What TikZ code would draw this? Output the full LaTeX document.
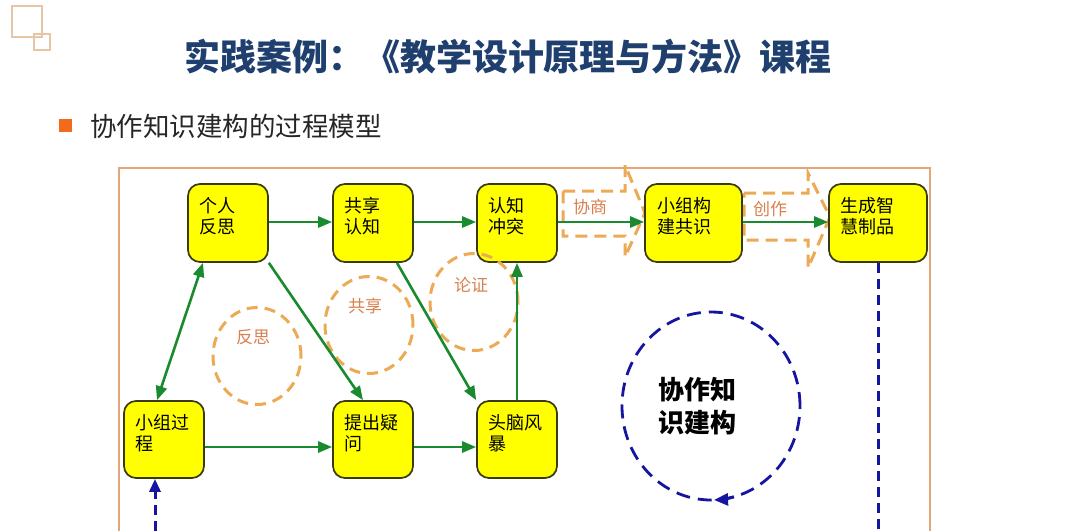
\documentclass[tikz,border=0pt]{standalone}
\usepackage{fontspec}
\newfontfamily\cjk{Noto Sans CJK SC}
\usetikzlibrary{arrows.meta,shapes.geometric}
\definecolor{boxfill}{HTML}{FFFF00}
\definecolor{boxline}{HTML}{3A3A10}
\definecolor{arrowgreen}{HTML}{1A8A2E}
\definecolor{dashorange}{HTML}{EDAA55}
\definecolor{labelorange}{HTML}{D8804E}
\definecolor{dblue}{HTML}{1515A0}
\definecolor{titleblue}{HTML}{1F3F6E}
\definecolor{bulletorange}{HTML}{F26A1B}
\definecolor{framec}{HTML}{E3A679}
\definecolor{cornerc}{HTML}{E6C6A6}
\begin{document}
\begin{tikzpicture}[x=1pt,y=-1pt,
  box/.style={draw=boxline, fill=boxfill, rounded corners=12pt, line width=1.7pt,
    minimum width=80pt, minimum height=78pt, inner sep=0},
  boxtext/.style={font=\cjk\fontsize{18}{21}\selectfont, align=left, inner sep=0, text=black, anchor=north west},
  garrow/.style={draw=arrowgreen, line width=2.6pt, -{Triangle[length=14pt,width=11pt]}},
  gdouble/.style={draw=arrowgreen, line width=2.6pt, {Triangle[length=14pt,width=11pt]}-{Triangle[length=14pt,width=11pt]}},
  ocirc/.style={draw=dashorange, dash pattern=on 11pt off 7pt, line width=3pt, ellipse,
    minimum width=88pt, minimum height=97pt, inner sep=0},
  olabel/.style={font=\cjk\fontsize{17}{17}\selectfont, text=labelorange, inner sep=0},
  oblock/.style={draw=dashorange, dash pattern=on 12pt off 7pt, line width=3pt},
  bline/.style={draw=dblue, line width=3pt, dash pattern=on 10pt off 6pt},
]
\useasboundingbox (0,0) rectangle (1080,531);
\fill[white] (0,0) rectangle (1080,531);

% corner decoration
\draw[cornerc, line width=1.2pt] (12,6) rectangle (42,37);
\draw[cornerc, line width=1.2pt] (34,34) rectangle (50,50);

% title
\node[font=\cjk\bfseries\fontsize{36}{36}\selectfont, text=titleblue, inner sep=0] (title) at (508,57) {实践案例：《教学设计原理与方法》课程};

% bullet
\node[fill=bulletorange, minimum size=13pt, inner sep=0] (bul) at (65.5,125) {};
\node[anchor=west, font=\cjk\fontsize{26.5}{26.5}\selectfont, inner sep=0, text=black!85] (sub) at (90,126) {协作知识建构的过程模型};

% frame
\draw[framec, line width=1.4pt] (119,531) -- (119,168) -- (930,168) -- (930,531);

% dashed block arrows
\draw[oblock] (563,191) -- (625,191) -- (625,165) -- (645,213) -- (625,257) -- (625,236) -- (563,236) -- cycle;
\draw[oblock] (744,193) -- (808,193) -- (808,173) -- (830,217) -- (808,268) -- (808,240) -- (744,240) -- cycle;
\node[olabel] (xs) at (590,207) {协商};
\node[olabel] (cz) at (770,209) {创作};

% boxes
\node[box] (gr) at (228,223) {};
\node[box] (gx) at (373,223) {};
\node[box] (rz) at (517,223) {};
\node[box, minimum width=97pt] (xz) at (693.5,223) {};
\node[box, minimum width=98pt] (sc) at (878,223) {};
\node[box, minimum height=77pt] (xg) at (164,439.5) {};
\node[box, minimum height=77pt] (tq) at (373,439.5) {};
\node[box, minimum height=77pt] (tn) at (517,439.5) {};

\node[boxtext] (grt) at ([shift={(12pt,-14pt)}]gr.north west) {个人\\反思};
\node[boxtext] (gxt) at ([shift={(12pt,-14pt)}]gx.north west) {共享\\认知};
\node[boxtext] (rzt) at ([shift={(12pt,-14pt)}]rz.north west) {认知\\冲突};
\node[boxtext] (xzt) at ([shift={(13pt,-14pt)}]xz.north west) {小组构\\建共识};
\node[boxtext] (sct) at ([shift={(12pt,-14pt)}]sc.north west) {生成智\\慧制品};
\node[boxtext] (xgt) at ([shift={(12pt,-14pt)}]xg.north west) {小组过\\程};
\node[boxtext] (tqt) at ([shift={(12pt,-14pt)}]tq.north west) {提出疑\\问};
\node[boxtext] (tnt) at ([shift={(12pt,-14pt)}]tn.north west) {头脑风\\暴};

% orange dashed circles
\node[ocirc] (c1) at (257,356) {};
\node[ocirc] (c2) at (369,325) {};
\node[ocirc] (c3) at (474,302) {};
\node[olabel] (l1) at (253,337) {反思};
\node[olabel] (l2) at (365,306) {共享};
\node[olabel] (l3) at (471,285) {论证};

% green arrows
\draw[garrow] ([yshift=1pt]gr.east) -- ([yshift=1pt]gx.west);
\draw[garrow] ([yshift=1pt]gx.east) -- ([yshift=1pt]rz.west);
\draw[garrow] ([yshift=1pt]rz.east) -- ([yshift=1pt]xz.west);
\draw[garrow] ([yshift=1pt]xz.east) -- ([yshift=1pt]sc.west);
\draw[garrow] ([yshift=-7.5pt]xg.east) -- ([yshift=-7.5pt]tq.west);
\draw[garrow] ([yshift=-7.5pt]tq.east) -- ([yshift=-7.5pt]tn.west);
\draw[gdouble] ([xshift=-7pt]xg.north) -- ([xshift=-25pt]gr.south);
\draw[garrow] (gr.south east) -- ([xshift=-10pt]tq.north);
\draw[garrow] ([xshift=24pt]gx.south) -- (tn.north west);
\draw[garrow] (tn.north) -- (rz.south);

% blue dashed lines
\coordinate (rb) at (878,531);
\coordinate (lb) at (155,531);
\draw[bline] (sc.south) -- (rb);
\draw[bline, -{Triangle[length=13pt,width=11pt]}] (lb) -- ([xshift=-9pt]xg.south);

% big blue circle
\node[draw=dblue, ellipse, minimum width=178pt, minimum height=188pt, inner sep=0,
  dash pattern=on 14pt off 8pt, line width=2.8pt] (cyc) at (711,406) {};
\draw[draw=dblue, line width=2.8pt, -{Triangle[length=14pt,width=12pt]}]
  (734,496.8) arc[start angle=-75, end angle=-88, x radius=89pt, y radius=94pt];
\node[font=\cjk\bfseries\fontsize{26}{33}\selectfont, align=left, inner sep=0] (cyt) at (697,406) {协作知\\识建构};
\end{tikzpicture}
\end{document}
